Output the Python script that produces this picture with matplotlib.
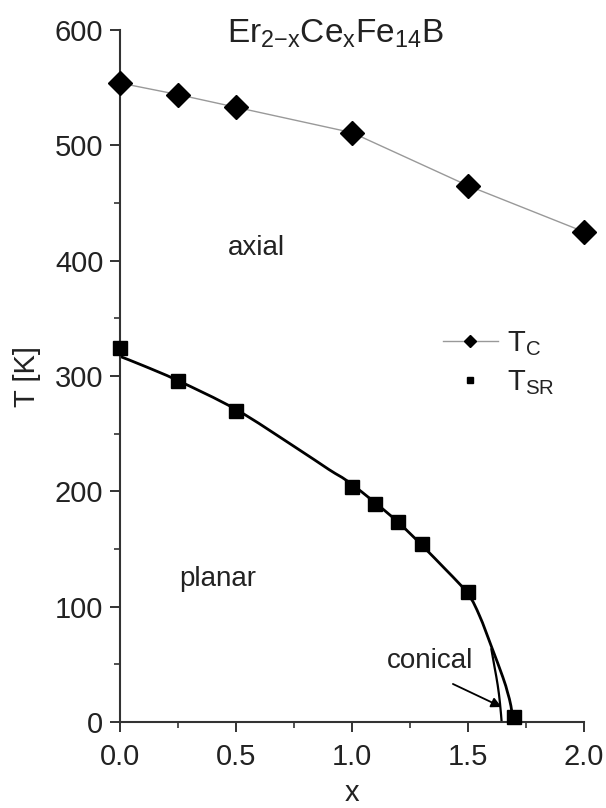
import matplotlib
matplotlib.use("Agg")
import matplotlib.pyplot as plt
from matplotlib.path import Path
from matplotlib.patches import PathPatch
import numpy as np

plt.rcParams['font.family'] = ['Liberation Sans', 'DejaVu Sans']
plt.rcParams['mathtext.fontset'] = 'custom'
plt.rcParams['mathtext.rm'] = 'Liberation Sans'
plt.rcParams['mathtext.it'] = 'Liberation Sans'
plt.rcParams['mathtext.bf'] = 'Liberation Sans:bold'

# Data
x_tc = [0.0, 0.25, 0.5, 1.0, 1.5, 2.0]
t_tc = [554, 544, 533, 511, 465, 425]

x_sr = [0.0, 0.25, 0.5, 1.0, 1.1, 1.2, 1.3, 1.5, 1.7]
t_sr = [324, 296, 270, 204, 189, 173, 154, 113, 4]

# Boundary curves
curve_x = [0.0, 0.1, 0.25, 0.5, 0.75, 0.9, 1.0, 1.2, 1.4, 1.5, 1.55, 1.6, 1.65, 1.67, 1.685, 1.695]
curve_t = [317, 309, 296, 271, 239, 219, 206, 173, 133, 111, 92, 66, 39, 26, 14, 0]
cone_x = [1.6, 1.615, 1.628, 1.638, 1.645]
cone_t = [64, 47, 32, 16, 0]


def smooth_path(ax, xs, ys, **kw):
    """Draw a smooth (Catmull-Rom / Bezier) path through the given points."""
    pts = ax.transData.transform(np.column_stack([xs, ys]))
    n = len(pts)
    verts = [pts[0]]
    codes = [Path.MOVETO]
    for i in range(n - 1):
        p0 = pts[i - 1] if i > 0 else pts[i]
        p1 = pts[i]
        p2 = pts[i + 1]
        p3 = pts[i + 2] if i + 2 < n else pts[i + 1]
        c1 = p1 + (p2 - p0) / 6.0
        c2 = p2 - (p3 - p1) / 6.0
        verts += [c1, c2, p2]
        codes += [Path.CURVE4] * 3
    path = Path(ax.transData.inverted().transform(np.array(verts)), codes)
    patch = PathPatch(path, fill=False, transform=ax.transData, clip_on=False, **kw)
    ax.add_patch(patch)


fig = plt.figure(figsize=(6.06, 8.08), dpi=100)
ax = fig.add_axes([0.198, 0.1064, 0.7657, 0.8565])
ax.set_xlim(0, 2.0)
ax.set_ylim(0, 600)

axis_col = '#333333'
txt_col = '#222222'
ax.plot(x_tc, t_tc, '-', color='#999999', lw=1.0, marker='D', ms=12,
        mfc='black', mec='black', clip_on=False, zorder=3, label=r'T$_\mathrm{C}$')
smooth_path(ax, curve_x, curve_t, color='black', lw=2.0, zorder=2)
smooth_path(ax, cone_x, cone_t, color='black', lw=1.6, zorder=2)
ax.plot(x_sr, t_sr, 's', color='black', ms=10, clip_on=False, zorder=4,
        label=r'T$_\mathrm{SR}$')

ax.set_xticks([0.0, 0.5, 1.0, 1.5, 2.0])
ax.set_xticklabels(['0.0', '0.5', '1.0', '1.5', '2.0'])
ax.set_xticks([0.25, 0.75, 1.25, 1.75], minor=True)
ax.set_yticks([0, 100, 200, 300, 400, 500, 600])
ax.set_yticks([50, 150, 250, 350, 450, 550], minor=True)

for s in ['top', 'right']:
    ax.spines[s].set_visible(False)
for s in ['left', 'bottom']:
    ax.spines[s].set_color(axis_col)
    ax.spines[s].set_linewidth(1.5)
ax.tick_params(which='major', direction='out', length=7, width=1.4,
               color=axis_col, labelsize=21, pad=5, labelcolor=txt_col)
ax.tick_params(which='minor', direction='out', length=4, width=1.2, color=axis_col)
ax.tick_params(axis='x', which='major', pad=8)

ax.set_xlabel('x', fontsize=21, color=txt_col, labelpad=6)
ax.set_ylabel('T [K]', fontsize=21, color=txt_col, labelpad=10)

ax.text(0.93, 589, r'Er$_{2\mathrm{-}x}$Ce$_x$Fe$_{14}$B', fontsize=24,
        ha='center', va='baseline', color=txt_col, clip_on=False)
ax.text(0.59, 411, 'axial', fontsize=20, ha='center', va='center', color=txt_col)
ax.text(0.42, 124, 'planar', fontsize=20, ha='center', va='center', color=txt_col)
ax.text(1.336, 53, 'conical', fontsize=20, ha='center', va='center', color=txt_col)
ax.annotate('', xy=(1.645, 13), xytext=(1.435, 33),
            arrowprops=dict(arrowstyle='-|>', color='black', lw=1.3,
                            mutation_scale=15, shrinkA=0, shrinkB=0))

leg = ax.legend(loc='upper left', bbox_to_anchor=(0.67, 0.585), frameon=False,
                fontsize=21, markerscale=0.5, handlelength=1.9,
                handletextpad=0.3, labelspacing=0.35, borderaxespad=0)
for t in leg.get_texts():
    t.set_color(txt_col)

fig.savefig('out.png', dpi=100)
